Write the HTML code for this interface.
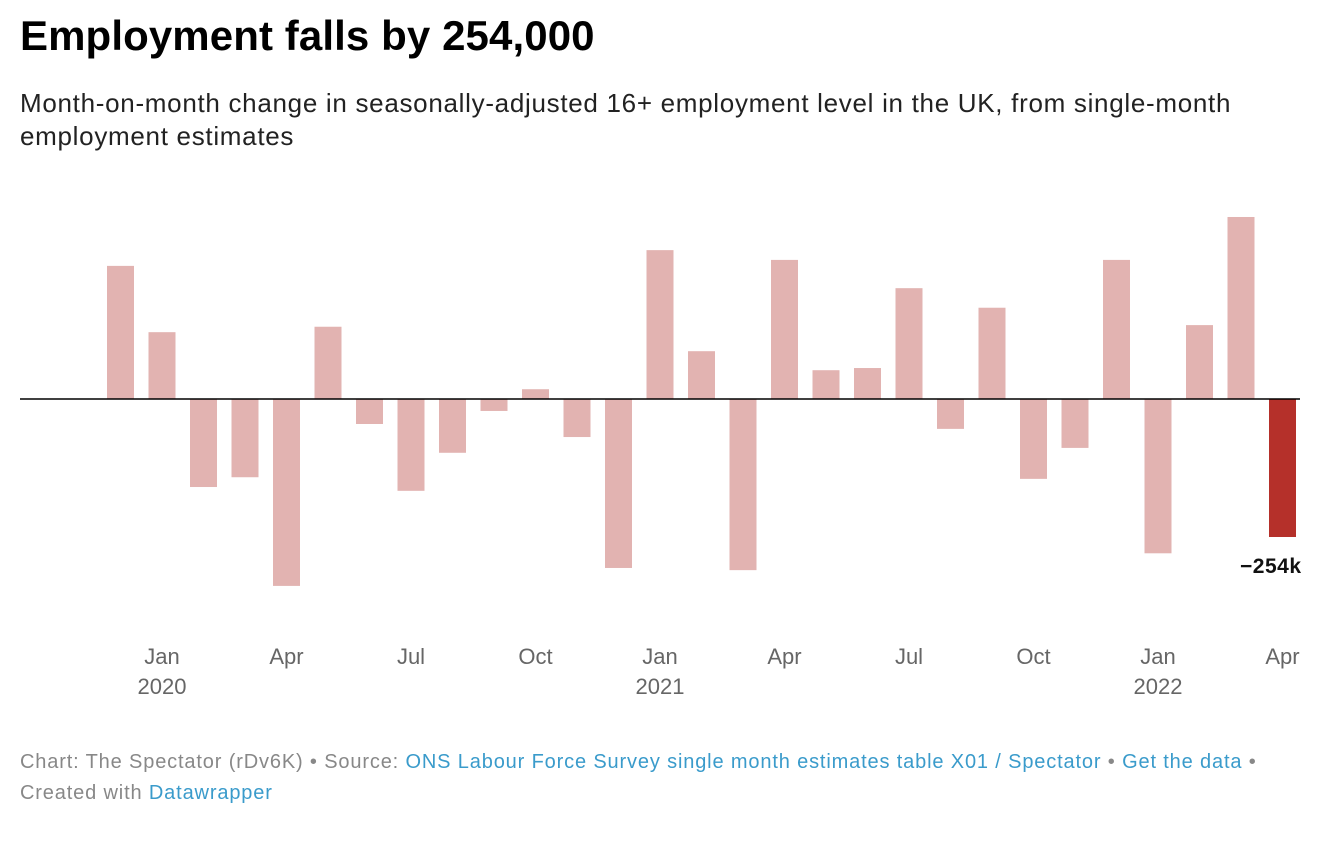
<!DOCTYPE html>
<html><head><meta charset="utf-8"><style>
body{margin:0;background:#fff;font-family:"Liberation Sans",sans-serif;width:1338px;height:844px;overflow:hidden;position:relative}
h1{position:absolute;left:20px;top:12px;margin:0;font-size:42px;font-weight:bold;color:#000;letter-spacing:0.1px}
.sub{position:absolute;left:20px;top:87px;font-size:26px;line-height:33px;color:#222;width:1300px;letter-spacing:0.7px}
.foot{position:absolute;left:20px;top:747px;font-size:20px;line-height:31px;color:#888;letter-spacing:0.85px}
.foot a{color:#3a9bcb;text-decoration:none}
svg{position:absolute;left:0;top:0}
</style></head><body>
<h1>Employment falls by 254,000</h1>
<div class="sub">Month-on-month change in seasonally-adjusted 16+ employment level in the UK, from single-month<br>employment estimates</div>
<svg id="chart" width="1338" height="844"></svg>
<div class="foot">Chart: The Spectator (rDv6K) • Source: <a>ONS Labour Force Survey single month estimates table X01 / Spectator</a> • <a>Get the data</a> •<br>Created with <a>Datawrapper</a></div>
<script>
const months=["Dec19","Jan20","Feb20","Mar20","Apr20","May20","Jun20","Jul20","Aug20","Sep20","Oct20","Nov20","Dec20","Jan21","Feb21","Mar21","Apr21","May21","Jun21","Jul21","Aug21","Sep21","Oct21","Nov21","Dec21","Jan22","Feb22","Mar22","Apr22"];
const values=[245,123,-162,-144,-344,133,-46,-169,-99,-22,18,-70,-311,274,88,-315,256,53,57,204,-55,168,-147,-90,256,-284,136,335,-254];
const tickIdx=[1,4,7,10,13,16,19,22,25,28];
const tickLabels=["Jan","Apr","Jul","Oct","Jan","Apr","Jul","Oct","Jan","Apr"];
const yearLabels=["2020","","","","2021","","","","2022",""];
const NS="http://www.w3.org/2000/svg";
const svg=document.getElementById('chart');
const x0=120.5,step=41.5,zeroY=399,pxPerK=138/254,bw=27;
const xPos=i=>x0+i*step;
const yPos=v=>zeroY-v*pxPerK;
values.forEach((v,i)=>{
 const r=document.createElementNS(NS,'rect');
 const y1=Math.min(yPos(v),zeroY),h=Math.abs(yPos(v)-zeroY);
 r.setAttribute('x',xPos(i)-bw/2);r.setAttribute('y',y1);r.setAttribute('width',bw);r.setAttribute('height',h);
 r.setAttribute('fill',i===values.length-1?'#b5302a':'#e2b3b1');
 
 
 svg.appendChild(r);
});
const ln=document.createElementNS(NS,'line');
ln.setAttribute('x1',20);ln.setAttribute('x2',1300);ln.setAttribute('y1',zeroY);ln.setAttribute('y2',zeroY);
ln.setAttribute('stroke','#000');ln.setAttribute('stroke-width','1.5');


svg.appendChild(ln);
const last=values.length-1;
const lab=document.createElementNS(NS,'text');
lab.setAttribute('x',xPos(last)+19);lab.setAttribute('y',yPos(values[last])+36);
lab.setAttribute('text-anchor','end');lab.setAttribute('font-size','21');lab.setAttribute('font-weight','bold');lab.setAttribute('fill','#111');lab.setAttribute('letter-spacing','0.5');
lab.textContent='\u2212'+Math.abs(values[last])+'k';


svg.appendChild(lab);
tickIdx.forEach((idx,k)=>{
 const t=document.createElementNS(NS,'text');
 t.setAttribute('x',xPos(idx));t.setAttribute('y',664);t.setAttribute('text-anchor','middle');t.setAttribute('font-size','22');t.setAttribute('fill','#666');
 t.textContent=tickLabels[k];
 
 
 svg.appendChild(t);
 if(yearLabels[k]){
  const y=document.createElementNS(NS,'text');
  y.setAttribute('x',xPos(idx));y.setAttribute('y',694);y.setAttribute('text-anchor','middle');y.setAttribute('font-size','22');y.setAttribute('fill','#666');
  y.textContent=yearLabels[k];
  
  
  svg.appendChild(y);
 }
});
</script>
</body></html>
